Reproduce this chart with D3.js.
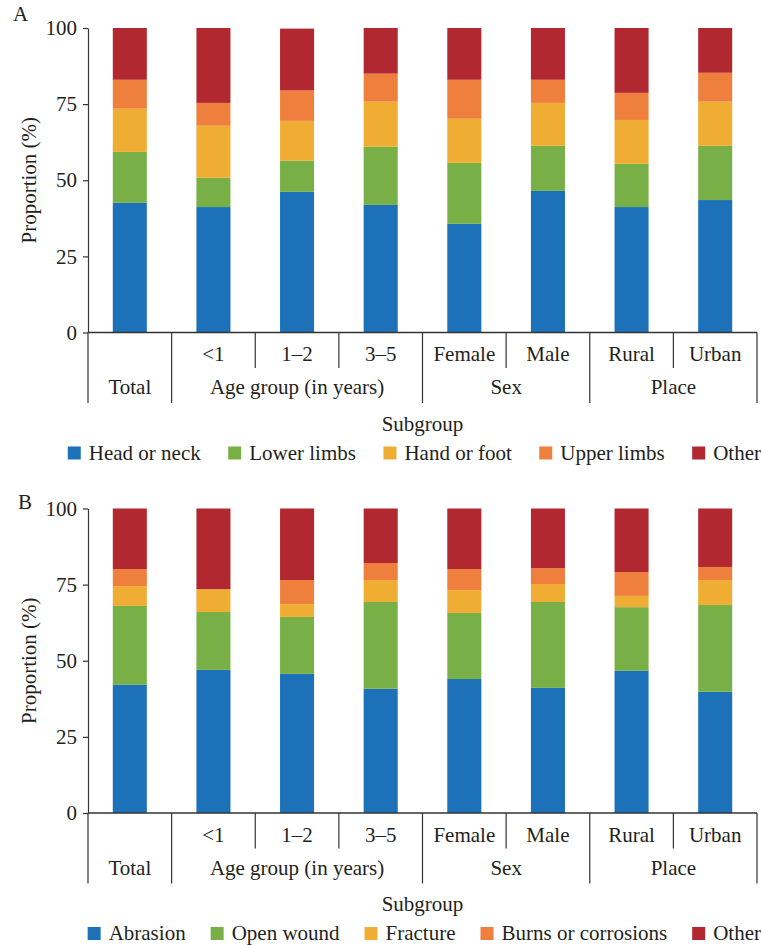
<!DOCTYPE html>
<meta charset="utf-8">
<style>
  body { margin: 0; background: #fff; }
</style>
<script src="https://d3js.org/d3.v7.min.js"></script>
<div id="chart"></div>
<script>
// categories
var groups = ["Total", "<1", "1–2", "3–5", "Female", "Male", "Rural", "Urban"];
var subLabels = ["", "<1", "1–2", "3–5", "Female", "Male", "Rural", "Urban"];
var superGroups = ["Total", "Age group (in years)", "Sex", "Place"];
var superSpan = [1, 3, 2, 2];
var yTicks = [0, 25, 50, 75, 100];

// panel A: body site (%)
var siteKeys = ["Head or neck", "Lower limbs", "Hand or foot", "Upper limbs", "Other"];
var headNeck    = [42.6, 41.2, 46.2, 41.9, 35.7, 46.5, 41.2, 43.5];
var lowerLimbs  = [16.7,  9.6, 10.2, 19.1, 20.0, 14.8, 14.2, 17.8];
var handFoot    = [14.2, 17.1, 13.1, 14.8, 14.5, 14.1, 14.4, 14.5];
var upperLimbs  = [ 9.5,  7.5, 10.0,  9.2, 12.8,  7.6,  8.9,  9.5];
var otherSite   = [17.0, 24.6, 20.3, 15.0, 17.0, 17.0, 21.3, 14.7];

// panel B: nature of injury (%)
var natureKeys = ["Abrasion", "Open wound", "Fracture", "Burns or corrosions", "Other"];
var abrasion    = [42.1, 47.0, 45.7, 40.8, 44.0, 41.1, 46.7, 39.8];
var openWound   = [25.9, 19.0, 18.7, 28.5, 21.7, 28.2, 20.9, 28.5];
var fracture    = [ 6.5,  7.5,  4.2,  7.2,  7.5,  5.9,  3.7,  8.2];
var burns       = [ 5.6,  0.0,  7.9,  5.6,  6.9,  5.2,  7.8,  4.3];
var otherNature = [19.9, 26.5, 23.5, 17.9, 19.9, 19.6, 20.9, 19.2];

var colors = ["#1c71b8", "#78b047", "#f0ad33", "#ef7f3c", "#b22830"];

var W = 761, H = 945;
var svg = d3.select("#chart").append("svg")
    .attr("width", W)
    .attr("height", H);

function serif(sel) {
  return sel.style("font-family", '"Liberation Serif", "Times New Roman", serif')
    .style("font-size", "21px")
    .attr("fill", "#231f20");
}

var x = d3.scaleBand()
  .domain(groups)
  .range([88, 757])
  .paddingInner(0.593)
  .paddingOuter(0.2965);

function boundary(k) {
  if (k >= groups.length) return x.range()[1];
  return x(groups[k]) - (x.step() - x.bandwidth()) / 2;
}

function drawPanel(top, keys, series, letter, letterX, letterY, gap) {
  var g = svg.append("g").attr("transform", "translate(0," + top + ")");
  var h = 304.5;
  var y = d3.scaleLinear().domain([0, 100]).range([h, 0]);

  var rows = groups.map(function(d, i) {
    var r = { group: d };
    keys.forEach(function(k, j) { r[k] = series[j][i]; });
    return r;
  });
  var stacked = d3.stack().keys(keys)(rows);

  g.selectAll(".layer")
    .data(stacked)
    .enter().append("g")
      .attr("fill", function(d, i) { return colors[i]; })
    .selectAll("rect")
    .data(function(d) { return d; })
    .enter().append("rect")
      .attr("x", function(d) { return x(d.data.group); })
      .attr("y", function(d) { return y(d[1]); })
      .attr("width", x.bandwidth())
      .attr("height", function(d) { return y(d[0]) - y(d[1]); });

  // y axis
  var yAxis = g.append("g")
    .attr("transform", "translate(88,0)")
    .call(d3.axisLeft(y).tickValues(yTicks).tickSize(5).tickPadding(6).tickSizeOuter(0));
  yAxis.select(".domain").attr("stroke", "#333").attr("stroke-width", 1.2);
  yAxis.selectAll(".tick line").attr("stroke", "#333").attr("stroke-width", 1.2);
  serif(yAxis.selectAll("text"));

  serif(g.append("text"))
    .attr("transform", "translate(36," + (h / 2) + ") rotate(-90)")
    .attr("text-anchor", "middle")
    .text("Proportion (%)");

  // x baseline
  g.append("line")
    .attr("x1", 88).attr("x2", x.range()[1])
    .attr("y1", h).attr("y2", h)
    .attr("stroke", "#333").attr("stroke-width", 1.5);

  // separators: long ones between groups of subgroups
  var longIdx = [0];
  superSpan.reduce(function(acc, s) { longIdx.push(acc + s); return acc + s; }, 0);
  d3.range(groups.length + 1).forEach(function(k) {
    var isLong = longIdx.indexOf(k) >= 0;
    g.append("line")
      .attr("x1", boundary(k)).attr("x2", boundary(k))
      .attr("y1", h).attr("y2", h + (isLong ? 70.5 : 35.5))
      .attr("stroke", "#333").attr("stroke-width", 1.2);
  });

  serif(g.selectAll(".sub")
    .data(groups)
    .enter().append("text"))
      .attr("x", function(d) { return x(d) + x.bandwidth() / 2; })
      .attr("y", h + 28.5)
      .attr("text-anchor", "middle")
      .text(function(d, i) { return subLabels[i]; });

  var start = 0;
  superGroups.forEach(function(s, i) {
    var x0 = boundary(start), x1 = boundary(start + superSpan[i]);
    serif(g.append("text"))
      .attr("x", (x0 + x1) / 2)
      .attr("y", h + 61.5)
      .attr("text-anchor", "middle")
      .text(s);
    start += superSpan[i];
  });

  serif(g.append("text"))
    .attr("x", (x.range()[0] + x.range()[1]) / 2)
    .attr("y", h + 98)
    .attr("text-anchor", "middle")
    .text("Subgroup");

  // legend, right aligned
  var items = g.append("g").selectAll("g")
    .data(keys)
    .enter().append("g");
  items.append("rect")
    .attr("width", 13).attr("height", 13)
    .attr("y", h + 114)
    .attr("fill", function(d, i) { return colors[i]; });
  serif(items.append("text"))
    .attr("x", 21)
    .attr("y", h + 127)
    .text(function(d) { return d; });
  var widths = [];
  items.each(function() { widths.push(d3.select(this).select("text").node().getComputedTextLength() + 21); });
  var total = d3.sum(widths) + gap * (widths.length - 1);
  var cx = 761 - total;
  items.attr("transform", function(d, i) {
    var t = "translate(" + cx + ",0)";
    cx += widths[i] + gap;
    return t;
  });

  serif(svg.append("text"))
    .attr("x", letterX)
    .attr("y", letterY)
    .text(letter);
}

drawPanel(28, siteKeys, [headNeck, lowerLimbs, handFoot, upperLimbs, otherSite], "A", 13, 21, 27.5);
drawPanel(508.5, natureKeys, [abrasion, openWound, fracture, burns, otherNature], "B", 18, 509, 25);
</script>
